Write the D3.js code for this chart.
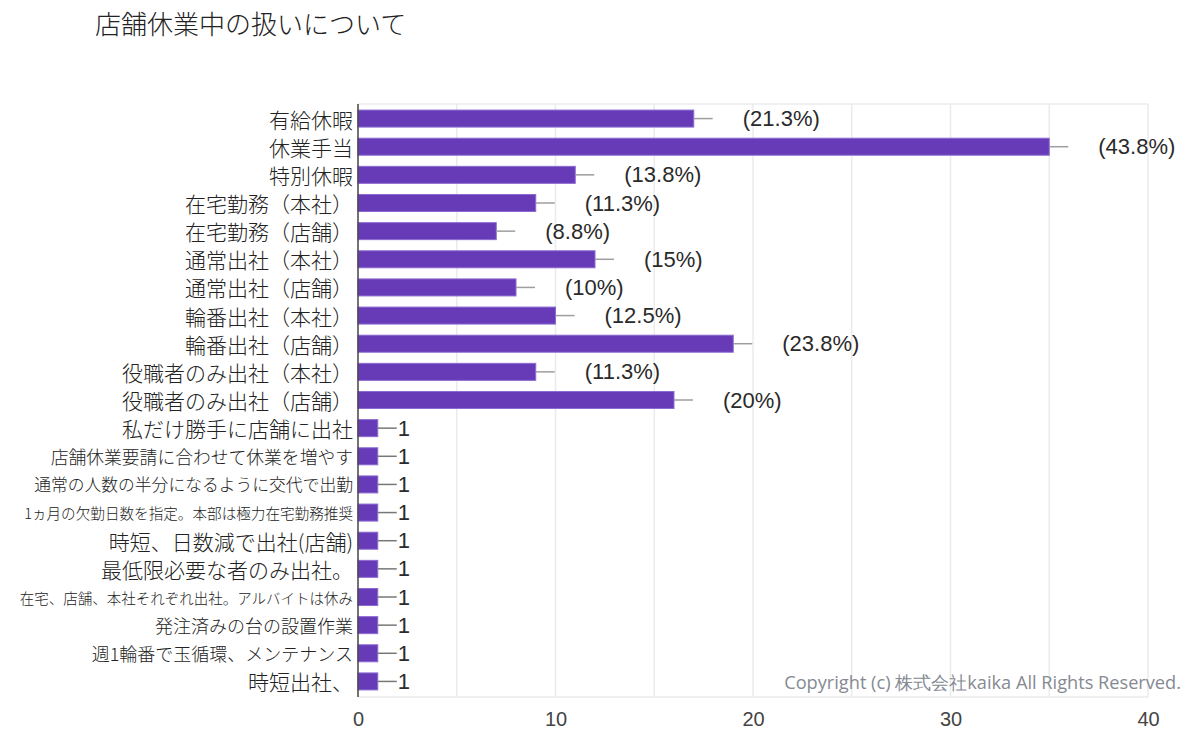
<!DOCTYPE html>
<html>
<head>
<meta charset="utf-8">
<script src="https://cdn.jsdelivr.net/npm/d3@7"></script>
<style>
  body { margin: 0; background: #fff; }
  svg { display: block; }
</style>
</head>
<body>
<svg id="chart"></svg>
<script>
const categories = [
  "有給休暇", "休業手当", "特別休暇", "在宅勤務（本社）", "在宅勤務（店舗）",
  "通常出社（本社）", "通常出社（店舗）", "輪番出社（本社）", "輪番出社（店舗）",
  "役職者のみ出社（本社）", "役職者のみ出社（店舗）", "私だけ勝手に店舗に出社",
  "店舗休業要請に合わせて休業を増やす", "通常の人数の半分になるように交代で出勤",
  "1ヵ月の欠勤日数を指定。本部は極力在宅勤務推奨", "時短、日数減で出社(店舗)",
  "最低限必要な者のみ出社。", "在宅、店舗、本社それぞれ出社。アルバイトは休み",
  "発注済みの台の設置作業", "週1輪番で玉循環、メンテナンス", "時短出社、"
];
const counts = [17, 35, 11, 9, 7, 12, 8, 10, 19, 9, 16, 1, 1, 1, 1, 1, 1, 1, 1, 1, 1];
const pctLabels = ["(21.3%)", "(43.8%)", "(13.8%)", "(11.3%)", "(8.8%)", "(15%)", "(10%)",
  "(12.5%)", "(23.8%)", "(11.3%)", "(20%)", "1", "1", "1", "1", "1", "1", "1", "1", "1", "1"];
const xTicks = [0, 10, 20, 30, 40];
const gridValues = [5, 10, 15, 20, 25, 30, 35, 40];
const title = "店舗休業中の扱いについて";
const copyright = "Copyright (c) 株式会社kaika All Rights Reserved.";

// label font sizes (style only)
const labelSize = [21, 21, 21, 21, 21, 21, 21, 21, 21, 21, 21, 21, 17.8, 16.8, 14.6, 21, 21, 14.5, 18, 18, 21];

const W = 1200, H = 748;
const pLeft = 358, pRight = 1148, pTop = 104, pBottom = 697;

const rows = categories.map((c, i) => ({ cat: c, n: counts[i], lab: pctLabels[i], fs: labelSize[i] }));

const svg = d3.select("#chart").attr("width", W).attr("height", H);

const x = d3.scaleLinear().domain([0, 40]).range([pLeft, pRight]);
const y = d3.scaleBand().domain(categories).range([104.5, 695.5]).paddingInner(0.396).paddingOuter(0.198);

const jp = "'Noto Sans CJK JP', 'Noto Sans', sans-serif";
const num = "'Liberation Sans', Arial, sans-serif";

svg.append("text")
  .attr("x", 95).attr("y", 22)
  .attr("dominant-baseline", "central")
  .style("font-family", jp).style("font-size", "26px").style("font-weight", 300).style("fill", "#222")
  .text(title);

// grid
svg.append("g").selectAll("line").data(gridValues).join("line")
  .attr("x1", d => x(d)).attr("x2", d => x(d))
  .attr("y1", pTop).attr("y2", pBottom)
  .attr("stroke", "#ebebeb").attr("stroke-width", 1.5);
svg.append("g").selectAll("line").data([pTop, pBottom]).join("line")
  .attr("x1", pLeft).attr("x2", pRight)
  .attr("y1", d => d).attr("y2", d => d)
  .attr("stroke", "#ebebeb").attr("stroke-width", 1.5);

// bars
svg.append("g").selectAll("rect").data(rows).join("rect")
  .attr("x", x(0))
  .attr("y", d => y(d.cat))
  .attr("width", d => x(d.n) - x(0))
  .attr("height", y.bandwidth())
  .attr("fill", "#673ab7")
  .attr("stroke", "#8b6bd1").attr("stroke-width", 1);

// stems
svg.append("g").selectAll("line").data(rows).join("line")
  .attr("x1", d => x(d.n)).attr("x2", d => x(d.n) + 19)
  .attr("y1", d => y(d.cat) + y.bandwidth() / 2).attr("y2", d => y(d.cat) + y.bandwidth() / 2)
  .attr("stroke", d => d.n === 1 ? "#777" : "#9e9e9e").attr("stroke-width", 1.5);

// value labels
svg.append("g").selectAll("text").data(rows).join("text")
  .attr("x", d => d.n === 1 ? x(d.n) + 20 : x(d.n) + 49)
  .attr("y", d => y(d.cat) + y.bandwidth() / 2)
  .attr("dominant-baseline", "central")
  .style("font-family", num).style("font-size", "22px").style("fill", "#2a2a2a")
  .text(d => d.lab);

// category labels
svg.append("g").selectAll("text").data(rows).join("text")
  .attr("x", pLeft - 5)
  .attr("y", d => y(d.cat) + y.bandwidth() / 2)
  .attr("text-anchor", "end")
  .attr("dominant-baseline", "central")
  .style("font-family", jp).style("font-size", d => d.fs + "px").style("font-weight", 300).style("fill", "#222")
  .text(d => d.cat);

// x axis labels
const xAxis = d3.axisBottom(x).tickValues(xTicks).tickSize(0).tickPadding(15);
const gx = svg.append("g").attr("transform", "translate(0," + pBottom + ")").call(xAxis);
gx.select(".domain").remove();
gx.selectAll("text").style("font-family", num).style("font-size", "20px").style("fill", "#444");

// y axis line
svg.append("line")
  .attr("x1", pLeft).attr("x2", pLeft).attr("y1", pTop).attr("y2", pBottom)
  .attr("stroke", "#444").attr("stroke-width", 1.5);

svg.append("text")
  .attr("x", 1181).attr("y", 682)
  .attr("text-anchor", "end").attr("dominant-baseline", "central")
  .style("font-family", "'Open Sans', sans-serif").style("font-size", "18.2px").style("fill", "#858a92")
  .text(copyright);
</script>
</body>
</html>
